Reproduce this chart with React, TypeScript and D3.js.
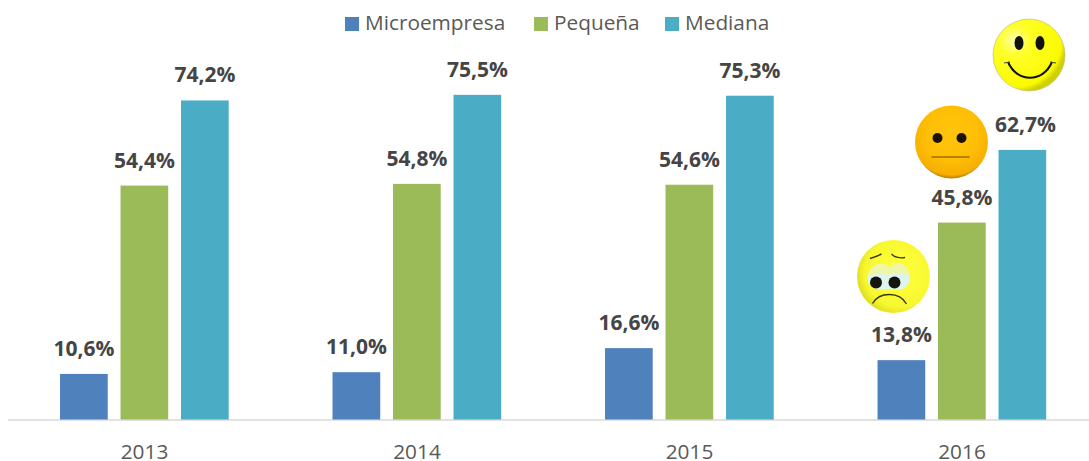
import React, { useEffect, useRef } from "react";
import * as d3 from "d3";

const years = ["2013", "2014", "2015", "2016"];
const seriesNames = ["Microempresa", "Pequeña", "Mediana"];
const microempresa = [10.6, 11.0, 16.6, 13.8];
const pequena = [54.4, 54.8, 54.6, 45.8];
const mediana = [74.2, 75.5, 75.3, 62.7];
const colors = ["#4F81BD", "#9BBB59", "#4BACC6"];
const legendX = [345, 534, 665];

const width = 1089;
const height = 461;
const font = "'Open Sans', sans-serif";

export default function App() {
  const ref = useRef<SVGSVGElement>(null);

  useEffect(() => {
    const svg = d3.select(ref.current);
    svg.selectAll("*").remove();

    const x = d3.scaleBand().domain(years).range([8.25, 1098.25]);
    const x1 = d3
      .scaleBand()
      .domain(seriesNames)
      .range([x.bandwidth() * 0.19, x.bandwidth() * 0.809])
      .paddingInner(0.2116)
      .paddingOuter(0);
    const y = d3.scaleLinear().domain([0, 100]).range([419.5, -10.5]);

    const defs = svg.append("defs");
    const radial = (id: string, cx: string, cy: string, r: string, stops: [string, string][]) => {
      const g = defs.append("radialGradient").attr("id", id).attr("cx", cx).attr("cy", cy).attr("r", r);
      stops.forEach(([o, c]) => g.append("stop").attr("offset", o).attr("stop-color", c));
    };
    radial("happy", "0.3", "0.3", "0.72", [["0", "#FFFFB0"], ["0.3", "#FFFF28"], ["0.9", "#FAFA00"], ["1", "#D0D000"]]);
    radial("neutral", "0.5", "0.38", "0.62", [["0", "#FFC40C"], ["0.6", "#FFBE06"], ["0.92", "#F6AE00"], ["1", "#B98000"]]);
    radial("sad", "0.58", "0.45", "0.72", [["0", "#FFFF40"], ["0.65", "#F8F830"], ["0.9", "#D2D21C"], ["1", "#6A6A12"]]);

    // axis
    const axis = svg
      .append("g")
      .attr("transform", "translate(0,420)")
      .call(d3.axisBottom(x).tickSize(0).tickPadding(24));
    axis.select(".domain").remove();
    axis
      .selectAll("text")
      .attr("font-family", font)
      .attr("font-size", 20.8)
      .attr("fill", "#595959");
    svg
      .append("line")
      .attr("x1", 8)
      .attr("x2", 1089)
      .attr("y1", 420)
      .attr("y2", 420)
      .attr("stroke", "#D9D9D9")
      .attr("stroke-width", 1.5);

    // bars
    [microempresa, pequena, mediana].forEach((vals, s) => {
      const g = svg.append("g");
      g.selectAll("rect")
        .data(vals)
        .join("rect")
        .attr("x", (_, i) => x(years[i])! + x1(seriesNames[s])!)
        .attr("y", (d) => y(d))
        .attr("width", x1.bandwidth())
        .attr("height", (d) => y(0) - y(d))
        .attr("fill", colors[s]);
      g.selectAll("text")
        .data(vals)
        .join("text")
        // last Mediana label was dragged a bit to the right in the original
        .attr("x", (_, i) => x(years[i])! + x1(seriesNames[s])! + x1.bandwidth() / 2 + (s === 2 && i === 3 ? 3 : 0))
        .attr("y", (d) => y(d) - 18)
        .attr("text-anchor", "middle")
        .attr("font-family", font)
        .attr("font-size", 21)
        .attr("font-weight", 700)
        .attr("fill", "#454545")
        .text((d) => d3.format(".1f")(d).replace(".", ",") + "%");
    });

    // legend
    seriesNames.forEach((name, i) => {
      svg.append("rect").attr("x", legendX[i]).attr("y", 17).attr("width", 14).attr("height", 14).attr("fill", colors[i]);
      svg
        .append("text")
        .attr("x", legendX[i] + 20)
        .attr("y", 30)
        .attr("font-family", font)
        .attr("font-size", 20.8)
        .attr("fill", "#595959")
        .text(name);
    });

    // faces
    const happy = svg.append("g").attr("transform", "translate(1029,55)");
    happy.append("circle").attr("r", 36).attr("fill", "url(#happy)").attr("stroke", "#B5B58A").attr("stroke-width", 0.6);
    [-10, 11].forEach((dx) =>
      happy.append("ellipse").attr("cx", dx).attr("cy", -12).attr("rx", 4.5).attr("ry", 7).attr("fill", "#111"),
    );
    happy
      .append("path")
      .attr("d", "M-21,7 C-12,28 14,28 23,7")
      .attr("fill", "none")
      .attr("stroke", "#111")
      .attr("stroke-width", 2);
    happy
      .append("path")
      .attr("d", "M-25,8 L-19,7 M21,7 L27,8")
      .attr("fill", "none")
      .attr("stroke", "#444")
      .attr("stroke-width", 1);

    const neutral = svg.append("g").attr("transform", "translate(951.5,142)");
    neutral.append("circle").attr("r", 36.5).attr("fill", "url(#neutral)");
    [-14, 10].forEach((dx) =>
      neutral.append("circle").attr("cx", dx).attr("cy", -4).attr("r", 5).attr("fill", "#1A1208"),
    );
    neutral
      .append("line")
      .attr("x1", -20)
      .attr("x2", 18)
      .attr("y1", 15)
      .attr("y2", 15)
      .attr("stroke", "#6B4300")
      .attr("stroke-width", 1);

    const sad = svg.append("g").attr("transform", "translate(893.5,276.5)");
    sad.append("circle").attr("r", 36.5).attr("fill", "url(#sad)");
    sad
      .append("path")
      .attr("d", "M-26,2 C-26,-14 -8,-16 -4,-9 C2,-16 15,-14 16,0 C16,14 6,14 -2,12 C-12,14 -26,14 -26,2 Z")
      .attr("fill", "#F0F6A8");
    sad
      .append("path")
      .attr("d", "M-26,0 C-22,-2 -10,-4 -6,-1 C0,-4 12,-4 16,0 C16,14 6,14 -2,12 C-12,14 -26,14 -26,0 Z")
      .attr("fill", "#DDF5EC");
    [-17.5, 1].forEach((dx) =>
      sad.append("circle").attr("cx", dx).attr("cy", 6).attr("r", 6).attr("fill", "#15150F"),
    );
    sad
      .append("path")
      .attr("d", "M-23.5,-18 C-20,-19 -15,-21 -12,-22.5 M-2,-22.5 C1,-19 7,-18 11.5,-19 M-21,27 C-14,15 6,15 13,27.5")
      .attr("fill", "none")
      .attr("stroke", "#3A3A10")
      .attr("stroke-width", 1.4);
  }, []);

  return (
    <svg
      ref={ref}
      width={width}
      height={height}
      style={{ position: "absolute", left: 0, top: 0, background: "white", display: "block" }}
    />
  );
}
